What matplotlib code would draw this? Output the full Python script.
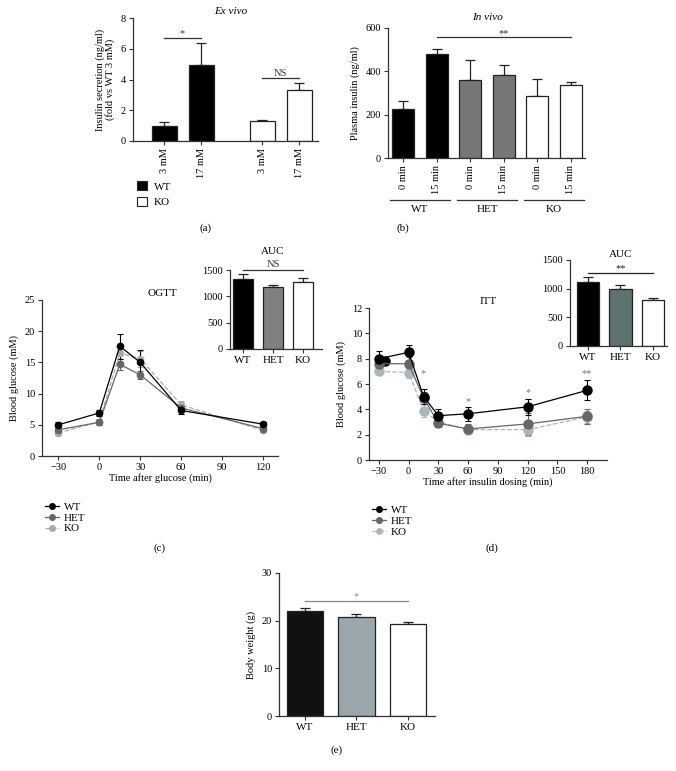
import numpy as np
import matplotlib
matplotlib.use('Agg')
import matplotlib.pyplot as plt
from matplotlib.lines import Line2D

plt.rcParams['font.family'] = ['Liberation Serif', 'DejaVu Serif']
plt.rcParams['font.size'] = 7.5
plt.rcParams['axes.linewidth'] = 0.9
plt.rcParams['axes.edgecolor'] = '#333333'
plt.rcParams['xtick.color'] = '#333333'
plt.rcParams['ytick.color'] = '#333333'
plt.rcParams['xtick.labelcolor'] = 'black'
plt.rcParams['ytick.labelcolor'] = 'black'

# (a) ex vivo insulin secretion
a_labels = ['3 mM', '17 mM', '3 mM', '17 mM']
a_pos = [0, 1, 2.65, 3.65]
a_vals = [1.0, 4.95, 1.3, 3.3]
a_err = [0.25, 1.4, 0.05, 0.45]

# (b) plasma insulin
b_labels = ['0 min', '15 min', '0 min', '15 min', '0 min', '15 min']
b_groups = ['WT', 'HET', 'KO']
b_vals = [228, 478, 362, 383, 288, 335]
b_err = [37, 27, 90, 45, 78, 18]

# (c) OGTT
c_time = [-30, 0, 15, 30, 60, 120]
c_wt = [5.0, 6.9, 17.6, 15.0, 7.3, 5.1]
c_wt_err = [0.4, 0.5, 2.0, 2.0, 0.6, 0.3]
c_het = [4.2, 5.4, 14.7, 13.0, 7.7, 4.4]
c_het_err = [0.4, 0.4, 0.9, 0.6, 0.6, 0.3]
c_ko = [3.7, 5.5, 16.5, 15.6, 8.2, 4.1]
c_ko_err = [0.3, 0.5, 1.3, 1.3, 0.6, 0.3]
c_auc = [1320, 1170, 1280]
c_auc_err = [110, 40, 60]

# (d) ITT
d_time = [-30, 0, 15, 30, 60, 120, 180]
d_wt = [8.0, 8.5, 5.0, 3.5, 3.65, 4.2, 5.5]
d_wt_err = [0.6, 0.6, 0.6, 0.5, 0.55, 0.65, 0.8]
d_het = [7.6, 7.6, 4.9, 2.9, 2.45, 2.85, 3.45]
d_het_err = [0.5, 0.5, 0.5, 0.3, 0.4, 0.9, 0.6]
d_ko = [7.0, 6.9, 3.9, 3.0, 2.4, 2.4, 3.4]
d_ko_err = [0.3, 0.4, 0.5, 0.3, 0.3, 0.5, 0.5]
d_stray = (-24, 7.8)
d_star_t = [15, 60, 120, 180]
d_star_y = [6.8, 4.6, 5.3, 6.8]
d_star_txt = ['*', '*', '*', '**']
d_auc = [1110, 990, 810]
d_auc_err = [90, 70, 30]

# (e) body weight
e_labels = ['WT', 'HET', 'KO']
e_vals = [22.0, 20.8, 19.4]
e_err = [0.7, 0.5, 0.4]

W, H = 676, 771
fig = plt.figure(figsize=(W / 100, H / 100), dpi=100)


def px(l, t, r, b):
    return [l / W, 1 - b / H, (r - l) / W, (b - t) / H]


def style(ax):
    ax.spines['top'].set_visible(False)
    ax.spines['right'].set_visible(False)
    ax.tick_params(length=3, width=0.8, pad=2)


def bars(ax, x, v, e, colors, width):
    ax.bar(x, v, width, color=colors, edgecolor='#222222', linewidth=0.9, zorder=2)
    ax.errorbar(x, v, yerr=[np.zeros(len(e)), e], fmt='none', ecolor='#222222',
                elinewidth=0.9, capsize=3.5, capthick=0.9, zorder=1)


def sig(ax, x0, x1, y, txt, color='#333333', dy=0):
    ax.plot([x0, x1], [y, y], color=color, lw=0.9, clip_on=False)
    ax.text((x0 + x1) / 2, y + dy, txt, ha='center', va='bottom', fontsize=7.5, color=color)


def lines(ax, t, series, colors, styles, ms):
    handles = []
    for (y, e, lab), c, ls in zip(series, colors, styles):
        ax.errorbar(t, y, yerr=e, color=c, ls=ls, lw=0.9, marker='o', ms=ms,
                    capsize=2.5, elinewidth=0.8, capthick=0.8)
        handles.append(Line2D([], [], color=c, ls=ls, lw=0.9, marker='o', ms=4, label=lab))
    return handles[::-1]


# ---- (a)
ax = fig.add_axes(px(133, 18, 318, 141))
style(ax)
bars(ax, a_pos, a_vals, a_err, ['black', 'black', 'white', 'white'], 0.68)
ax.set_xlim(-0.84, 4.16)
ax.set_ylim(0, 8)
ax.set_yticks([0, 2, 4, 6, 8])
ax.set_xticks(a_pos)
ax.set_xticklabels(a_labels, rotation=90)
ax.set_ylabel('Insulin secretion (ng/ml)\n(fold vs WT 3 mM)', linespacing=1.0, labelpad=4)
sig(ax, a_pos[0], a_pos[1], 6.7, '*')
sig(ax, a_pos[2], a_pos[3], 4.1, 'NS')
ax.text(1.8, 8.4, 'Ex vivo', style='italic', ha='center', va='center', fontsize=8)
h1 = plt.Rectangle((0, 0), 1, 1, fc='black', ec='#222222', lw=0.8)
h2 = plt.Rectangle((0, 0), 1, 1, fc='white', ec='#222222', lw=0.8)
ax.legend([h1, h2], ['WT', 'KO'], loc='upper left', bbox_to_anchor=(-0.03, -0.245),
          frameon=False, handlelength=0.9, handleheight=0.9, handletextpad=0.6,
          labelspacing=0.45, fontsize=8)
fig.text(206 / W, 1 - 228 / H, '(a)', ha='center', va='center', fontsize=8)

# ---- (b)
ax = fig.add_axes(px(388, 28, 585, 158))
style(ax)
bpos = np.arange(len(b_vals))
bars(ax, bpos, b_vals, b_err, ['black', 'black', '#777777', '#777777', 'white', 'white'], 0.65)
ax.set_xlim(-0.45, 5.42)
ax.set_ylim(0, 600)
ax.set_yticks([0, 200, 400, 600])
ax.set_xticks(bpos)
ax.set_xticklabels(b_labels, rotation=90)
ax.set_ylabel('Plasma insulin (ng/ml)', labelpad=4)
sig(ax, 1, 5, 560, '**', dy=-5)
ax.text(2.5, 650, 'In vivo', style='italic', ha='center', va='center', fontsize=8)
tr = ax.get_xaxis_transform()
for i, g in enumerate(b_groups):
    x0, x1 = bpos[2 * i] - 0.4, bpos[2 * i + 1] + 0.4
    ax.plot([x0, x1], [-0.323, -0.323], transform=tr, color='#333333', lw=0.9, clip_on=False)
    ax.text((x0 + x1) / 2, -0.36, g, transform=tr, ha='center', va='top', fontsize=8)
fig.text(403 / W, 1 - 228 / H, '(b)', ha='center', va='center', fontsize=8)

# ---- (c)
ax = fig.add_axes(px(42, 300, 278, 456))
style(ax)
hd = lines(ax, c_time, [(c_ko, c_ko_err, 'KO'), (c_het, c_het_err, 'HET'), (c_wt, c_wt_err, 'WT')],
           ['#aaaaaa', '#666666', 'black'], ['--', '-', '-'], 4.5)
ax.set_xlim(-42, 131)
ax.set_ylim(0, 25)
ax.set_xticks([-30, 0, 30, 60, 90, 120])
ax.set_xticklabels(['\u221230', '0', '30', '60', '90', '120'])
ax.set_yticks([0, 5, 10, 15, 20, 25])
ax.set_xlabel('Time after glucose (min)', labelpad=1)
ax.set_ylabel('Blood glucose (mM)', labelpad=4)
ax.text(46, 26.1, 'OGTT', ha='center', va='center', fontsize=8)
ax.legend(handles=hd, loc='upper left', bbox_to_anchor=(-0.03, -0.23), frameon=False,
          handlelength=1.3, handletextpad=0.4, labelspacing=0.1, fontsize=8)
fig.text(160 / W, 1 - 548 / H, '(c)', ha='center', va='center', fontsize=8)

ax = fig.add_axes(px(230, 270, 322, 349))
style(ax)
bars(ax, [0, 1, 2], c_auc, c_auc_err, ['black', '#808080', 'white'], 0.67)
ax.set_xlim(-0.43, 2.63)
ax.set_ylim(0, 1500)
ax.set_yticks([0, 500, 1000, 1500])
ax.set_xticks([0, 1, 2])
ax.set_xticklabels(e_labels, fontsize=8)
sig(ax, 0, 2, 1500, 'NS', dy=20)
ax.text(1, 1760, 'AUC', ha='center', va='bottom', fontsize=8)

# ---- (d)
ax = fig.add_axes(px(369, 308, 607, 460))
style(ax)
hd = lines(ax, d_time, [(d_ko, d_ko_err, 'KO'), (d_het, d_het_err, 'HET'), (d_wt, d_wt_err, 'WT')],
           ['#a9b8bc', '#666666', 'black'], ['--', '-', '-'], 6.5)
ax.plot([d_stray[0]], [d_stray[1]], 'o', color='black', ms=6.5)
for t, y, s in zip(d_star_t, d_star_y, d_star_txt):
    ax.text(t, y, s, ha='center', va='center', color='#777777', fontsize=7.5)
ax.set_xlim(-40, 200)
ax.set_ylim(0, 12)
ax.set_xticks([-30, 0, 30, 60, 90, 120, 150, 180])
ax.set_xticklabels(['\u221230', '0', '30', '60', '90', '120', '150', '180'])
ax.set_yticks([0, 2, 4, 6, 8, 10, 12])
ax.set_xlabel('Time after insulin dosing (min)', labelpad=1)
ax.set_ylabel('Blood glucose (mM)', labelpad=4)
ax.text(80, 12.5, 'ITT', ha='center', va='center', fontsize=8)
ax.legend(handles=hd, loc='upper left', bbox_to_anchor=(-0.03, -0.23), frameon=False,
          handlelength=1.3, handletextpad=0.4, labelspacing=0.1, fontsize=8)
fig.text(492 / W, 1 - 548 / H, '(d)', ha='center', va='center', fontsize=8)

ax = fig.add_axes(px(570, 260, 667, 346))
style(ax)
bars(ax, [0, 1, 2], d_auc, d_auc_err, ['black', '#5f7272', 'white'], 0.68)
ax.set_xlim(-0.55, 2.43)
ax.set_ylim(0, 1500)
ax.set_yticks([0, 500, 1000, 1500])
ax.set_xticks([0, 1, 2])
ax.set_xticklabels(e_labels, fontsize=8)
sig(ax, 0, 2, 1270, '**', color='#222222', dy=0)
ax.text(1, 1520, 'AUC', ha='center', va='bottom', fontsize=8)

# ---- (e)
ax = fig.add_axes(px(279, 573, 435, 716))
style(ax)
bars(ax, [0, 1, 2], e_vals, e_err, ['#111111', '#9aa8ae', 'white'], 0.7)
ax.set_xlim(-0.5, 2.52)
ax.set_ylim(0, 30)
ax.set_yticks([0, 10, 20, 30])
ax.set_xticks([0, 1, 2])
ax.set_xticklabels(e_labels, fontsize=8)
ax.set_ylabel('Body weight (g)', labelpad=4)
sig(ax, 0, 2, 24.1, '*', color='#888888', dy=0)
fig.text(337 / W, 1 - 750 / H, '(e)', ha='center', va='center', fontsize=8)

fig.savefig('out.png', dpi=100)
